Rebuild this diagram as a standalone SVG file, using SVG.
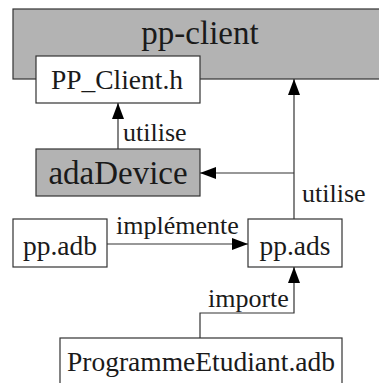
<svg xmlns="http://www.w3.org/2000/svg" width="379" height="383" viewBox="0 0 379 383">
<defs>
<marker id="ah" viewBox="0 0 16 12" refX="16" refY="6" markerWidth="16" markerHeight="12" markerUnits="userSpaceOnUse" orient="auto">
<path d="M0,0 L16,6 L0,12 Z" fill="#000"/>
</marker>
<style>
.box{fill:#fff;stroke:#333;stroke-width:1.2}
.gray{fill:#b3b3b3;stroke:#333;stroke-width:1.2}
text{font-family:'Liberation Serif','Times New Roman',serif;fill:#1a1a1a}
.t{text-anchor:middle}
.n{font-size:27.5px}
.big{font-size:33px}
.lbl{font-size:26px}
.c{fill:none;stroke:#333;stroke-width:1.2}
</style>
</defs>
<rect width="379" height="383" fill="#fff"/>
<g id="pp-client">
<rect class="gray" x="13" y="9" width="380" height="70"/>
<text class="t big" x="200" y="44">pp-client</text>
</g>
<g id="PP_Client.h">
<rect class="box" x="36" y="56" width="164" height="47"/>
<text class="t n" x="117" y="89">PP_Client.h</text>
</g>
<g id="adaDevice">
<rect class="gray" x="36" y="149" width="164" height="47"/>
<text class="t big" x="118" y="184">adaDevice</text>
</g>
<g id="pp.adb">
<rect class="box" x="13" y="219" width="94" height="48"/>
<text class="t n" x="60" y="255">pp.adb</text>
</g>
<g id="pp.ads">
<rect class="box" x="248" y="219" width="94" height="48"/>
<text class="t n" x="295" y="255">pp.ads</text>
</g>
<g id="ProgrammeEtudiant.adb">
<rect class="box" x="60" y="338" width="282" height="60"/>
<text class="t n" x="201" y="371">ProgrammeEtudiant.adb</text>
</g>
<g id="connectors">
<path class="c" d="M118,149 V103" marker-end="url(#ah)"/>
<text class="lbl" x="123" y="141">utilise</text>
<path class="c" d="M294,219 V79" marker-end="url(#ah)"/>
<path class="c" d="M294,173 H200" marker-end="url(#ah)"/>
<text class="lbl" x="302" y="202">utilise</text>
<path class="c" d="M107,244 H248" marker-end="url(#ah)"/>
<text class="lbl" x="116" y="234">implémente</text>
<path class="c" d="M200,338 V313 H294 V267" marker-end="url(#ah)"/>
<text class="lbl" x="208" y="307">importe</text>
</g>
</svg>
